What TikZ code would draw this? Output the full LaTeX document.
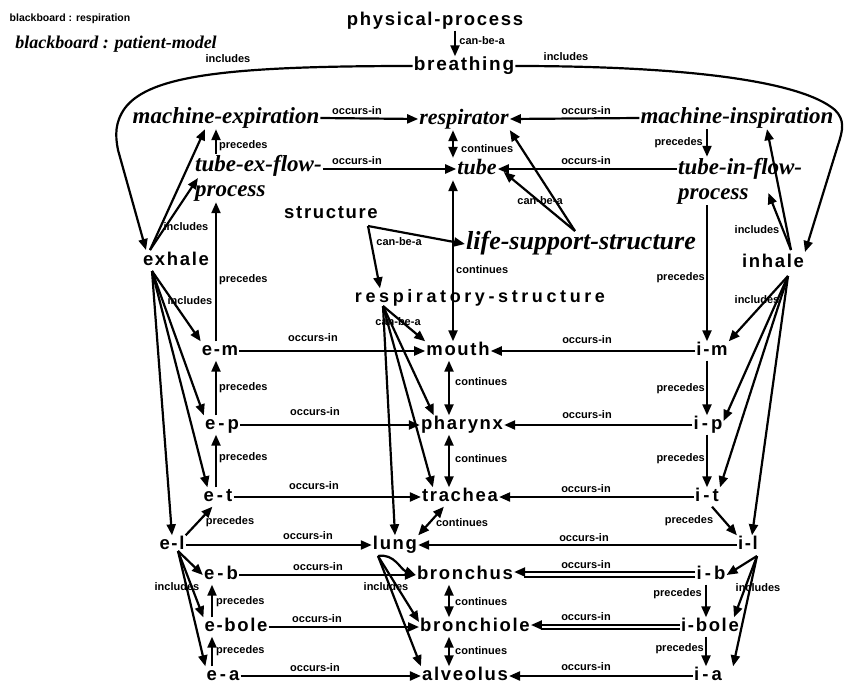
\documentclass[tikz,border=0pt]{standalone}
\usepackage{fontspec}
\usetikzlibrary{arrows.meta}
\newfontfamily\bsf{Liberation Sans}[LetterSpace=9]
\newfontfamily\bsfw{Liberation Sans}[LetterSpace=20]
\newfontfamily\lsf{Liberation Sans}
\newfontfamily\itf{Liberation Serif}
\begin{document}
\begin{tikzpicture}[x=1pt,y=-1pt,
 nb/.style={font=\bsf\bfseries\fontsize{18.5}{20}\selectfont, inner sep=1pt, text height=13pt, text depth=4pt},
 ni/.style={font=\itf\bfseries\itshape\fontsize{#1}{25}\selectfont, inner sep=1pt, text height=15pt, text depth=5pt},
 ni/.default=23,
 nm/.style={font=\itf\bfseries\itshape\fontsize{23}{25}\selectfont, inner sep=1pt, align=left, anchor=west},
 el/.style={font=\lsf\bfseries\fontsize{11}{12}\selectfont, inner sep=0pt},
 tip/.tip={Triangle[length=11pt,width=9pt]},
 ln/.style={line width=2.2pt},
 arr/.style={ln, -tip},
 darr/.style={ln, tip-tip}
]
\fill[white] (0,0) rectangle (846,685);
\useasboundingbox (0,0) rectangle (846,685);
% helper coordinates
\coordinate (lx) at (216,0);
\coordinate (lx2) at (212,0);
\coordinate (rx) at (707,0);
\coordinate (rx2) at (706,0);
\coordinate (cx) at (449,0);
\coordinate (tx) at (453,0);
% nodes
\node[el, font=\lsf\bfseries\fontsize{10.5}{12}\selectfont] (bb1) at (70,19) {blackboard : respiration};
\node[font=\itf\bfseries\itshape\fontsize{18}{20}\selectfont, inner sep=1pt] (bb2) at (116,44) {blackboard : patient-model};
\node[nb] (phys) at (435,21) {physical-process};
\node[nb, font=\bsf\bfseries\fontsize{19}{20}\selectfont] (breath) at (464,66) {breathing};
\node[ni] (mexp) at (226,118) {machine-expiration};
\node[ni=22] (resp) at (464,119) {respirator};
\node[ni] (minsp) at (737,118) {machine-inspiration};
\node[nm] (texf) at (194,178) {tube-ex-flow-\\process};
\node[ni=22] (tube) at (477,169) {tube};
\node[nm] (tinf) at (677,181) {tube-in-flow-\\process};
\node[nb] (struct) at (331,214) {structure};
\node[ni=26] (lss) at (581,244) {life-support-structure};
\node[nb, font=\bsfw\bfseries\fontsize{18}{20}\selectfont] (rstruct) at (480,298) {respiratory-structure};
\node[nb] (exhale) at (176,261) {exhale};
\node[nb] (inhale) at (773,263) {inhale};
\node[nb] (em) at (220,351) {e-m};
\node[nb] (ep) at (222,425) {e\,-\,p};
\node[nb] (et) at (218,497) {e\,-\,t};
\node[nb] (el) at (172,545) {e-l};
\node[nb] (eb) at (221,575) {e\,-\,b};
\node[nb] (ebole) at (236,627) {e-bole};
\node[nb] (ea) at (223,676) {e\,-\,a};
\node[nb] (mouth) at (458,351) {mouth};
\node[nb] (pharynx) at (462,425) {pharynx};
\node[nb] (trachea) at (460,497) {trachea};
\node[nb] (lung) at (395,545) {lung};
\node[nb] (bronchus) at (465,575) {bronchus};
\node[nb] (bronchiole) at (475,627) {bronchiole};
\node[nb] (alveolus) at (465,676) {alveolus};
\node[nb] (im) at (712,351) {i-m};
\node[nb] (ip) at (708,425) {i\,-\,p};
\node[nb] (it) at (707,497) {i\,-\,t};
\node[nb] (il) at (748,545) {i-l};
\node[nb] (ib) at (711,575) {i\,-\,b};
\node[nb] (ibole) at (710,627) {i-bole};
\node[nb] (ia) at (708,676) {i\,-\,a};
% fan origins
\coordinate (exC) at (146,250);
\coordinate (inC) at (805,252);
\coordinate (exU) at (150,250);
\coordinate (exD) at (152,271);
\coordinate (elO) at (178,551);
\coordinate (inU) at (791,250);
\coordinate (inD) at (788,276);
\coordinate (ilO) at (757,556);
\coordinate (rsO) at (383,306);
\coordinate (lgO) at (378,556);
\coordinate (stO) at (368,226);
\coordinate (lsO) at (575,231);
% top
\draw[arr] ([xshift=20pt]phys.south) -- ([xshift=-9pt]breath.north);
\node[el] (l1) at (482,41) {can-be-a};
\draw[arr] (breath.west) .. controls (230,66) and (150,75) .. (125,108) .. controls (115,122) and (115,135) .. (118,150) -- (exC);
\node[el] (l2) at (228,59) {includes};
\draw[arr] (breath.east) .. controls (680,66) and (800,80) .. (835,110) .. controls (845,120) and (843,130) .. (838,145) -- (inC);
\node[el] (l3) at (566,57) {includes};
\draw[arr] (mexp.east) -- (resp.west);
\node[el] (l4) at (357,111) {occurs-in};
\draw[arr] (minsp.west) -- (resp.east);
\node[el] (l5) at (586,111) {occurs-in};
\draw[arr] (texf.east |- tube.west) -- (tube.west);
\node[el] (l6) at (357,161) {occurs-in};
\draw[arr] (tinf.west |- tube.east) -- (tube.east);
\node[el] (l7) at (586,161) {occurs-in};
\draw[darr] (resp.south -| tx) -- (tube.north -| tx);
\node[el, anchor=west] (l8) at (461,149) {continues};
\draw[darr] (tube.south -| tx) -- (mouth.north -| tx);
\node[el, anchor=west] (l9) at (456,270) {continues};
% structure
\draw[arr] (stO) -- (lss.west);
\draw[arr] (stO) -- ([xshift=-100pt]rstruct.north);
\node[el] (l10) at (399,242) {can-be-a};
\draw[arr] (lsO) -- (resp.south east);
\draw[arr] (lsO) -- ([xshift=6pt,yshift=-3pt]tube.east);
\node[el] (l11) at (540,201) {can-be-a};
% left precedes
\draw[arr] (texf.north -| lx) -- (mexp.south -| lx);
\node[el, anchor=west] (l12) at (219,146) {precedes};
\draw[arr] (em.north -| lx) -- (texf.south -| lx);
\node[el, anchor=west] (l13) at (219,280) {precedes};
\draw[arr] (ep.north -| lx) -- (em.south -| lx);
\node[el, anchor=west] (l14) at (219,388) {precedes};
\draw[arr] (et.north -| lx) -- (ep.south -| lx);
\node[el, anchor=west] (l15) at (219,458) {precedes};
\draw[arr] (el.north east) -- ([xshift=10pt]et.south west);
\node[el] (l16) at (230,522) {precedes};
\draw[arr] (ebole.north -| lx2) -- (eb.south -| lx2);
\node[el, anchor=west] (l17) at (216,602) {precedes};
\draw[arr] (ea.north -| lx2) -- (ebole.south -| lx2);
\node[el, anchor=west] (l18) at (216,651) {precedes};
% exhale fans
\draw[arr] (exU) -- ([xshift=-21pt]mexp.south);
\draw[arr] (exU) -- ([xshift=4pt]texf.west);
\node[el] (l19) at (186,227) {includes};
\draw[arr] (exD) -- (em.north west);
\draw[arr] (exD) -- (ep.north west);
\draw[arr] (exD) -- ([xshift=5pt]et.north west);
\draw[arr] (exD) -- (el.north);
\node[el] (l20) at (190,301) {includes};
\draw[arr] (elO) -- (eb.west);
\draw[arr] (elO) -- (ebole.north west);
\draw[arr] (elO) -- (ea.north west);
\node[el] (l21) at (177,587) {includes};
% right precedes
\draw[arr] (minsp.south -| rx) -- (tinf.north -| rx);
\node[el, anchor=east] (l22) at (703,143) {precedes};
\draw[arr] (tinf.south -| rx) -- (im.north -| rx);
\node[el, anchor=east] (l23) at (705,278) {precedes};
\draw[arr] (im.south -| rx) -- (ip.north -| rx);
\node[el, anchor=east] (l24) at (705,389) {precedes};
\draw[arr] (ip.south -| rx) -- (it.north -| rx);
\node[el, anchor=east] (l25) at (705,459) {precedes};
\draw[arr] ([xshift=-8pt]it.south east) -- (il.north west);
\node[el] (l26) at (689,521) {precedes};
\draw[arr] (ib.south -| rx2) -- (ibole.north -| rx2);
\node[el, anchor=east] (l27) at (702,594) {precedes};
\draw[arr] (ibole.south -| rx2) -- (ia.north -| rx2);
\node[el, anchor=east] (l28) at (704,649) {precedes};
% inhale fans
\draw[arr] (inU) -- ([xshift=30pt]minsp.south);
\draw[arr] (inU) -- ([xshift=-35pt,yshift=-12pt]tinf.east);
\node[el] (l29) at (757,230) {includes};
\draw[arr] (inD) -- (im.north east);
\draw[arr] (inD) -- ([yshift=4pt]ip.east);
\draw[arr] (inD) -- (it.north east);
\draw[arr] (inD) -- ([xshift=4pt]il.north);
\node[el] (l30) at (757,300) {includes};
\draw[arr] (ilO) -- (ib.east);
\draw[arr] (ilO) -- ([xshift=-6pt]ibole.north east);
\draw[arr] (ilO) -- ([xshift=10pt]ia.north east);
\node[el] (l31) at (758,588) {includes};
% occurs-in left
\draw[arr] (em.east) -- (mouth.west);
\node[el] (l32) at (313,338) {occurs-in};
\draw[arr] (ep.east) -- (pharynx.west);
\node[el] (l33) at (315,412) {occurs-in};
\draw[arr] (et.east) -- (trachea.west);
\node[el] (l34) at (314,486) {occurs-in};
\draw[arr] (el.east) -- (lung.west);
\node[el] (l35) at (308,536) {occurs-in};
\draw[arr] (eb.east) -- (bronchus.west);
\node[el] (l36) at (318,567) {occurs-in};
\draw[arr] (ebole.east) -- (bronchiole.west);
\node[el] (l37) at (317,619) {occurs-in};
\draw[arr] (ea.east) -- (alveolus.west);
\node[el] (l38) at (315,668) {occurs-in};
% occurs-in right
\draw[arr] (im.west) -- (mouth.east);
\node[el] (l39) at (587,340) {occurs-in};
\draw[arr] (ip.west) -- (pharynx.east);
\node[el] (l40) at (587,415) {occurs-in};
\draw[arr] (it.west) -- (trachea.east);
\node[el] (l41) at (586,489) {occurs-in};
\draw[arr] (il.west) -- (lung.east);
\node[el] (l42) at (584,538) {occurs-in};
\draw[arr] ([yshift=3pt]ib.west) -- ([yshift=3pt]bronchus.east);
\draw[ln] ([yshift=-2pt]ib.west) -- ([xshift=10pt,yshift=-2pt]bronchus.east);
\node[el] (l43) at (586,565) {occurs-in};
\draw[arr] ([yshift=2pt]ibole.west) -- ([yshift=2pt]bronchiole.east);
\draw[ln] ([yshift=-2pt]ibole.west) -- ([xshift=10pt,yshift=-2pt]bronchiole.east);
\node[el] (l44) at (586,617) {occurs-in};
\draw[arr] (ia.west) -- (alveolus.east);
\node[el] (l45) at (586,667) {occurs-in};
% middle continues
\draw[darr] (mouth.south -| cx) -- (pharynx.north -| cx);
\node[el, anchor=west] (l46) at (455,382) {continues};
\draw[darr] (pharynx.south -| cx) -- (trachea.north -| cx);
\node[el, anchor=west] (l47) at (455,459) {continues};
\draw[darr] ([xshift=23pt]trachea.south west) -- (lung.north east);
\node[el] (l48) at (462,523) {continues};
\draw[darr] (bronchus.south -| cx) -- (bronchiole.north -| cx);
\node[el, anchor=west] (l49) at (455,602) {continues};
\draw[darr] (bronchiole.south -| cx) -- (alveolus.north -| cx);
\node[el, anchor=west] (l50) at (455,651) {continues};
% respiratory-structure fan
\draw[arr] (rsO) -- (mouth.north west);
\draw[arr] (rsO) -- ([xshift=14pt]pharynx.north west);
\draw[arr] (rsO) -- ([xshift=12pt]trachea.north west);
\draw[arr] (rsO) -- (lung.north);
\node[el] (l51) at (398,322) {can-be-a};
% lung fan
\draw[arr] (lgO) to[out=10,in=160] (bronchus.west);
\draw[arr] (lgO) -- ([yshift=5pt]bronchiole.west);
\draw[arr] (lgO) -- (alveolus.north west);
\node[el] (l52) at (386,587) {includes};
\end{tikzpicture}
\end{document}
